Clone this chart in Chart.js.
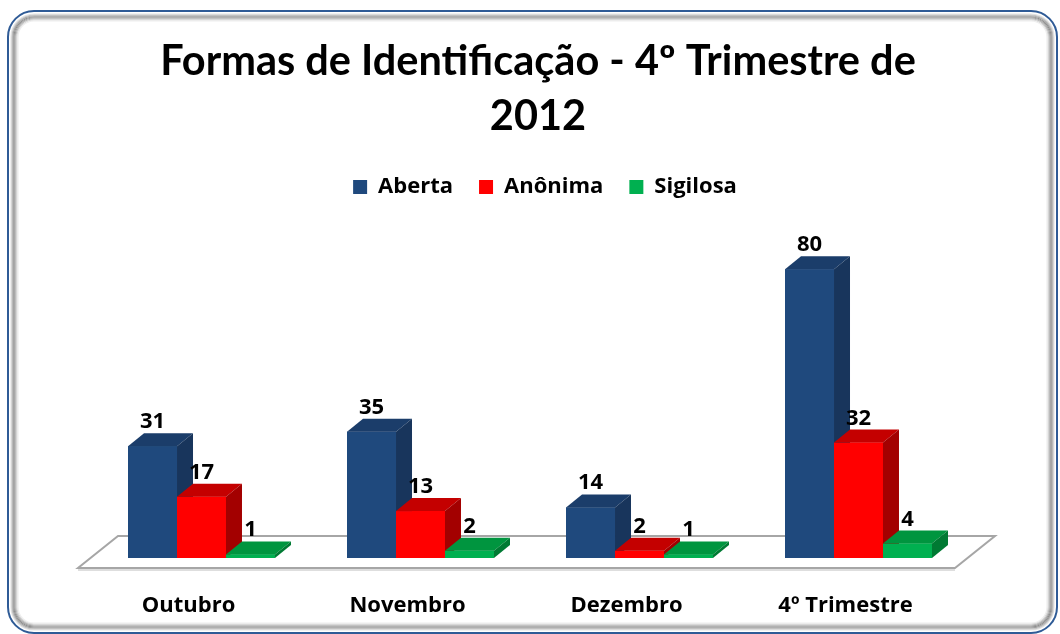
<!DOCTYPE html>
<html><head><meta charset="utf-8">
<script src="https://cdn.jsdelivr.net/npm/chart.js@4.4.0/dist/chart.umd.min.js"></script>
<style>html,body{margin:0;padding:0;background:#fff;}</style>
</head><body><canvas id="c" width="1060" height="634"></canvas>
<script>
const categories = ['Outubro', 'Novembro', 'Dezembro', '4º Trimestre'];
const seriesNames = ['Aberta', 'Anônima', 'Sigilosa'];
const aberta = [31, 35, 14, 80];
const anonima = [17, 13, 2, 32];
const sigilosa = [1, 2, 1, 4];
const titleLines = ['Formas de Identificação - 4º Trimestre de', '2012'];

const frontColors = ['#1f497d', '#ff0000', '#00b050'];
const topColors = ['#1b3d6a', '#c40000', '#00953f'];
const sideColors = ['#18355c', '#a30000', '#007a33'];
const TITLE_FONT = 'Lato, "Open Sans", sans-serif';
const FONT = '"Open Sans", Lato, sans-serif';

function rr(ctx, x, y, w, h, r) {
  ctx.beginPath();
  ctx.moveTo(x + r, y);
  ctx.arcTo(x + w, y, x + w, y + h, r);
  ctx.arcTo(x + w, y + h, x, y + h, r);
  ctx.arcTo(x, y + h, x, y, r);
  ctx.arcTo(x, y, x + w, y, r);
  ctx.closePath();
}

const framePlugin = {
  id: 'frame',
  afterLayout(chart) {
    // the title and legend sit slightly right of the plot centre in the original
    chart.titleBlock.left += 8; chart.titleBlock.right += 8;
    chart.legend.left += 15; chart.legend.right += 15;
  },
  beforeDraw(chart) {
    const ctx = chart.ctx;
    ctx.save();
    ctx.fillStyle = '#fff';
    ctx.fillRect(0, 0, chart.width, chart.height);
    const X = 8, Y = 11, W = 1049, H = 622, R = 26;
    const grays = ['#e4e4e4', '#c4c4c4', '#a2a2a2', '#8e8e8e', '#9c9c9c', '#b8b8b8', '#d6d6d6', '#eeeeee'];
    grays.forEach((g, k) => {
      const ins = 3 + k;
      ctx.strokeStyle = g;
      ctx.lineWidth = 1.2;
      rr(ctx, X + ins, Y + ins, W - 2 * ins, H - 2 * ins, R - ins);
      ctx.stroke();
    });
    ctx.strokeStyle = '#2f5b96';
    ctx.lineWidth = 2;
    rr(ctx, X, Y, W, H, R);
    ctx.stroke();
    ctx.restore();
  }
};

const floorPlugin = {
  id: 'floor',
  beforeDatasetsDraw(chart) {
    const ctx = chart.ctx, a = chart.chartArea;
    const y0 = chart.scales.y.getPixelForValue(0);
    ctx.save();
    ctx.beginPath();
    ctx.moveTo(a.left - 14, y0 + 12);
    ctx.lineTo(a.right - 13, y0 + 12);
    ctx.strokeStyle = '#dedede';
    ctx.lineWidth = 2;
    ctx.stroke();
    ctx.beginPath();
    ctx.moveTo(a.left - 14, y0 + 10);
    ctx.lineTo(a.right - 13, y0 + 10);
    ctx.lineTo(a.right + 27, y0 - 22);
    ctx.lineTo(a.left + 26, y0 - 22);
    ctx.closePath();
    ctx.fillStyle = '#ffffff';
    ctx.fill();
    ctx.strokeStyle = '#a6a6a6';
    ctx.lineWidth = 2;
    ctx.stroke();
    ctx.restore();
  }
};

const bars3dPlugin = {
  id: 'bars3d',
  afterDatasetsDraw(chart) {
    const ctx = chart.ctx;
    const dx = 16, dy = 13;
    ctx.save();
    const n = chart.data.labels.length;
    for (let i = 0; i < n; i++) {
      chart.data.datasets.forEach((ds, d) => {
        const el = chart.getDatasetMeta(d).data[i];
        const p = el.getProps(['x', 'y', 'base', 'width'], true);
        const l = p.x - p.width / 2, r = p.x + p.width / 2;
        ctx.fillStyle = frontColors[d];
        ctx.fillRect(l, p.y, p.width, p.base - p.y);
        ctx.beginPath();
        ctx.moveTo(l, p.y); ctx.lineTo(l + dx, p.y - dy); ctx.lineTo(r + dx, p.y - dy); ctx.lineTo(r, p.y);
        ctx.closePath();
        ctx.fillStyle = topColors[d];
        ctx.fill();
        ctx.beginPath();
        ctx.moveTo(r, p.y); ctx.lineTo(r + dx, p.y - dy); ctx.lineTo(r + dx, p.base - dy); ctx.lineTo(r, p.base);
        ctx.closePath();
        ctx.fillStyle = sideColors[d];
        ctx.fill();
      });
    }
    ctx.fillStyle = '#000';
    ctx.font = 'bold 22px ' + FONT;
    ctx.textAlign = 'center';
    ctx.textBaseline = 'alphabetic';
    chart.data.datasets.forEach((ds, d) => {
      chart.getDatasetMeta(d).data.forEach((el, i) => {
        const p = el.getProps(['x', 'y'], true);
        ctx.fillText(String(ds.data[i]), p.x, p.y - 18);
      });
    });
    ctx.restore();
  }
};

new Chart(document.getElementById('c'), {
  type: 'bar',
  data: {
    labels: categories,
    datasets: [
      { label: seriesNames[0], data: aberta, backgroundColor: frontColors[0] },
      { label: seriesNames[1], data: anonima, backgroundColor: frontColors[1] },
      { label: seriesNames[2], data: sigilosa, backgroundColor: frontColors[2] }
    ]
  },
  options: {
    responsive: false,
    animation: false,
    devicePixelRatio: 1,
    layout: { padding: { top: 20, left: 92, right: 92, bottom: -20.4 } },
    datasets: { bar: { barPercentage: 1, categoryPercentage: 0.671, borderWidth: 0 } },
    scales: {
      x: {
        grid: { display: false, drawTicks: false },
        border: { display: false },
        ticks: { color: '#000', font: { family: FONT, size: 22, weight: 'bold' }, padding: 35, labelOffset: -13 }
      },
      y: { display: false, min: 0, max: 97 }
    },
    plugins: {
      title: {
        display: true,
        text: titleLines,
        color: '#000',
        font: { family: TITLE_FONT, size: 41.5, weight: 'bold', lineHeight: 1.325 },
        padding: { top: 14, bottom: 6 }
      },
      legend: {
        display: true,
        labels: { color: '#000', font: { family: FONT, size: 22, weight: 'bold' }, boxWidth: 14, boxHeight: 14, padding: 26 }
      },
      tooltip: { enabled: false }
    }
  },
  plugins: [framePlugin, floorPlugin, bars3dPlugin]
});
</script>
</body></html>
